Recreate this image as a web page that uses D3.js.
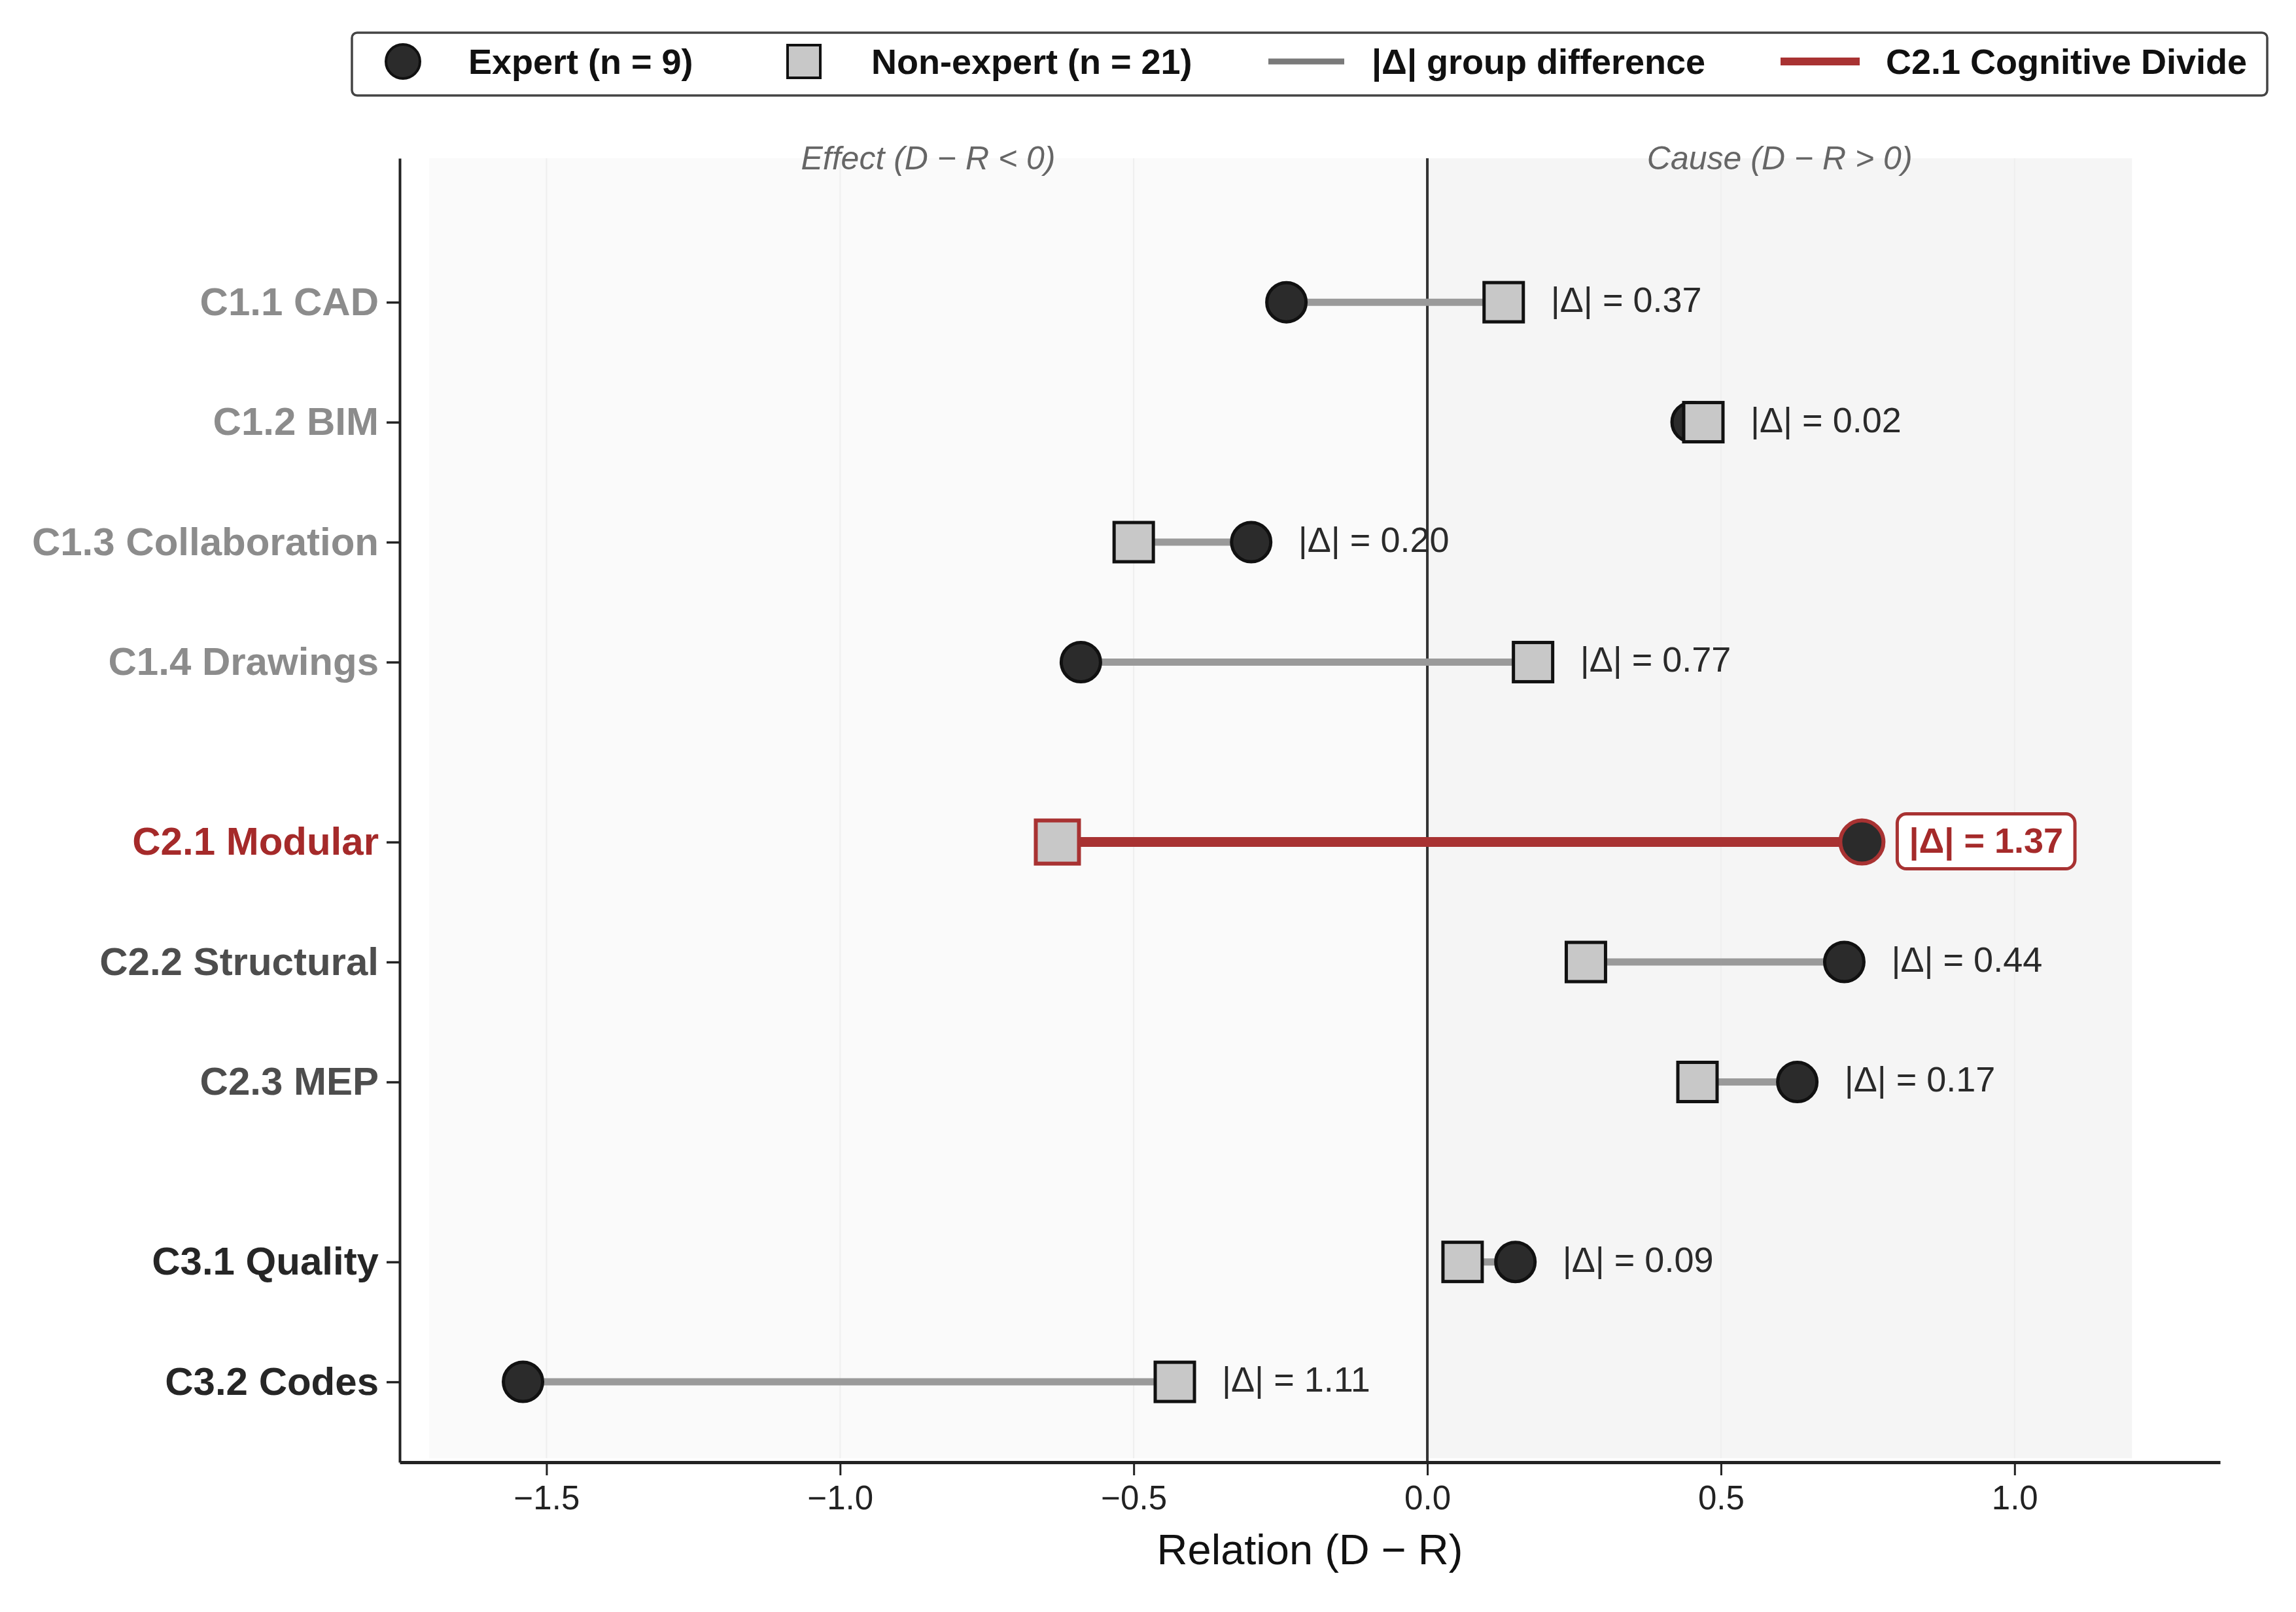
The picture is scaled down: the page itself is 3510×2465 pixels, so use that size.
<!DOCTYPE html>
<html>
<head>
<meta charset="utf-8">
<script src="https://cdn.jsdelivr.net/npm/d3@7"></script>
<style>
  html, body { margin: 0; padding: 0; background: #ffffff; }
  svg { display: block; font-family: "Liberation Sans", Arial, sans-serif; }
</style>
</head>
<body>
<svg id="chart" width="3510" height="2465"></svg>
<script>
// ---------- data ----------
const categories = ["C1.1 CAD", "C1.2 BIM", "C1.3 Collaboration", "C1.4 Drawings",
  "C2.1 Modular", "C2.2 Structural", "C2.3 MEP", "C3.1 Quality", "C3.2 Codes"];
const rowPositions = [0, 1, 2, 3, 4.5, 5.5, 6.5, 8, 9];
const expertValues = [-0.24, 0.45, -0.30, -0.59, 0.74, 0.71, 0.63, 0.15, -1.54];
const nonExpertValues = [0.13, 0.47, -0.50, 0.18, -0.63, 0.27, 0.46, 0.06, -0.43];
const deltaValues = [0.37, 0.02, 0.20, 0.77, 1.37, 0.44, 0.17, 0.09, 1.11];
const labelGroups = ["C1", "C1", "C1", "C1", "focus", "C2", "C2", "C3", "C3"];
const xTicks = [-1.5, -1.0, -0.5, 0.0, 0.5, 1.0];
const legendLabels = ["Expert (n = 9)", "Non-expert (n = 21)", "|\u0394| group difference", "C2.1 Cognitive Divide"];
const regionLabels = ["Effect (D \u2212 R < 0)", "Cause (D \u2212 R > 0)"];
const regionBounds = [[-1.7, 0], [0, 1.2]];
const xTitle = "Relation (D \u2212 R)";
const focusIndex = 4;

// ---------- styles ----------
const groupColor = { C1: "#8c8c8c", C2: "#4d4d4d", C3: "#262626", focus: "#a52a2a" };
const RED = "#a83232";
const svg = d3.select("#chart");

const x = d3.scaleLinear().domain([-1.75, 1.35]).range([611, 3394]);
const y = d3.scaleLinear().domain([-1.2, 9.67]).range([242, 2236]);
const plotTop = y(-1.2), plotBottom = y(9.67);

// background
svg.append("rect").attr("x", 0).attr("y", 0).attr("width", 3510).attr("height", 2465).attr("fill", "#ffffff");

// region shading
const regionFills = ["#fafafa", "#f5f5f5"];
svg.selectAll("rect.region").data(regionBounds).enter().append("rect")
  .attr("class", "region")
  .attr("x", d => x(d[0])).attr("width", d => x(d[1]) - x(d[0]))
  .attr("y", plotTop).attr("height", plotBottom - 6 - plotTop)
  .attr("fill", (d, i) => regionFills[i]);

// faint grid
svg.selectAll("line.grid").data(xTicks.filter(t => t !== 0)).enter().append("line")
  .attr("class", "grid")
  .attr("x1", d => x(d)).attr("x2", d => x(d))
  .attr("y1", plotTop).attr("y2", plotBottom - 6)
  .attr("stroke", "#efefef").attr("stroke-width", 2);

// region labels
svg.selectAll("text.region").data(regionBounds).enter().append("text")
  .attr("class", "region")
  .attr("x", d => x((d[0] + d[1]) / 2)).attr("y", plotTop + 17)
  .attr("text-anchor", "middle")
  .attr("font-size", 50).attr("font-style", "italic").attr("fill", "#666666")
  .text((d, i) => regionLabels[i]);

// zero line
svg.append("line").attr("x1", x(0)).attr("x2", x(0)).attr("y1", plotTop).attr("y2", plotBottom)
  .attr("stroke", "#333333").attr("stroke-width", 4);

const rows = categories.map((c, i) => ({
  cat: c, pos: rowPositions[i], e: expertValues[i], n: nonExpertValues[i],
  d: deltaValues[i], g: labelGroups[i], focus: i === focusIndex
}));

// segments
svg.selectAll("line.seg").data(rows).enter().append("line")
  .attr("class", "seg")
  .attr("x1", d => x(d.e)).attr("x2", d => x(d.n))
  .attr("y1", d => y(d.pos)).attr("y2", d => y(d.pos))
  .attr("stroke", d => d.focus ? RED : "#9a9a9a")
  .attr("stroke-width", d => d.focus ? 15 : 11);

// expert circles
svg.selectAll("circle.expert").data(rows).enter().append("circle")
  .attr("class", "expert")
  .attr("cx", d => x(d.e)).attr("cy", d => y(d.pos)).attr("r", d => d.focus ? 33 : 30)
  .attr("fill", "#2b2b2b")
  .attr("stroke", d => d.focus ? RED : "#111111").attr("stroke-width", d => d.focus ? 6 : 5);

// non-expert squares
svg.selectAll("rect.nonexp").data(rows).enter().append("rect")
  .attr("class", "nonexp")
  .attr("x", d => x(d.n) - (d.focus ? 33 : 30)).attr("y", d => y(d.pos) - (d.focus ? 33 : 30))
  .attr("width", d => d.focus ? 66 : 60).attr("height", d => d.focus ? 66 : 60)
  .attr("fill", "#c8c8c8")
  .attr("stroke", d => d.focus ? RED : "#111111").attr("stroke-width", d => d.focus ? 6 : 5);

// delta labels
rows.forEach(d => {
  const tx = x(Math.max(d.e, d.n)) + 72;
  const label = "|\u0394| = " + d.d.toFixed(2);
  if (d.focus) {
    const g = svg.append("g");
    const box = g.append("rect");
    const t = g.append("text")
      .attr("x", tx).attr("y", y(d.pos) - 3)
      .attr("dominant-baseline", "central")
      .attr("font-size", 54).attr("font-weight", "bold").attr("fill", "#a52a2a")
      .text(label);
    const bb = t.node().getBBox();
    box.attr("x", bb.x - 18).attr("y", y(d.pos) - 43)
      .attr("width", bb.width + 36).attr("height", 84)
      .attr("rx", 14).attr("ry", 14)
      .attr("fill", "#ffffff").attr("stroke", RED).attr("stroke-width", 5);
  } else {
    svg.append("text")
      .attr("x", tx).attr("y", y(d.pos) - 4)
      .attr("dominant-baseline", "central")
      .attr("font-size", 54).attr("fill", "#2a2a2a")
      .text(label);
  }
});

// axes
const yAxis = d3.axisLeft(y).tickValues(rowPositions)
  .tickFormat((d, i) => categories[i]).tickSize(20).tickSizeOuter(0).tickPadding(12);
const gy = svg.append("g").attr("transform", `translate(${x(-1.75)},0)`).call(yAxis);
gy.select(".domain").attr("stroke", "#222").attr("stroke-width", 4);
gy.selectAll(".tick line").attr("stroke", "#222").attr("stroke-width", 3.5);
gy.selectAll(".tick text")
  .attr("font-size", 60).attr("font-weight", "bold")
  .attr("font-family", "'Liberation Sans', Arial, sans-serif")
  .attr("fill", (d, i) => groupColor[labelGroups[i]]);

const xAxis = d3.axisBottom(x).tickValues(xTicks)
  .tickFormat(d => d3.format(".1f")(d).replace("-", "\u2212")).tickSize(20).tickSizeOuter(0).tickPadding(16);
const gx = svg.append("g").attr("transform", `translate(0,${plotBottom})`).call(xAxis);
gx.select(".domain").attr("stroke", "#222").attr("stroke-width", 5);
gx.selectAll(".tick line").attr("stroke", "#222").attr("stroke-width", 3);
gx.selectAll(".tick text")
  .attr("font-size", 51).attr("fill", "#222")
  .attr("font-family", "'Liberation Sans', Arial, sans-serif");

svg.append("text")
  .attr("x", (x(-1.75) + x(1.35)) / 2).attr("y", 2392)
  .attr("text-anchor", "middle").attr("font-size", 65).attr("fill", "#111")
  .text(xTitle);

// legend
const lg = svg.append("g");
lg.append("rect").attr("x", 538).attr("y", 50).attr("width", 2928).attr("height", 96)
  .attr("rx", 8).attr("ry", 8).attr("fill", "#ffffff").attr("stroke", "#444").attr("stroke-width", 3.5);
const ly = 94;
lg.append("circle").attr("cx", 616).attr("cy", ly).attr("r", 26)
  .attr("fill", "#2b2b2b").attr("stroke", "#111").attr("stroke-width", 4);
lg.append("rect").attr("x", 1229 - 25).attr("y", ly - 25).attr("width", 50).attr("height", 50)
  .attr("fill", "#c8c8c8").attr("stroke", "#111").attr("stroke-width", 4);
lg.append("line").attr("x1", 1939).attr("x2", 2055).attr("y1", ly).attr("y2", ly)
  .attr("stroke", "#7a7a7a").attr("stroke-width", 9);
lg.append("line").attr("x1", 2722).attr("x2", 2843).attr("y1", ly).attr("y2", ly)
  .attr("stroke", RED).attr("stroke-width", 12);
const legendX = [716, 1332, 2097, 2883];
lg.selectAll("text.leg").data(legendLabels).enter().append("text")
  .attr("class", "leg")
  .attr("x", (d, i) => legendX[i]).attr("y", ly)
  .attr("dominant-baseline", "central")
  .attr("font-size", 54).attr("font-weight", "bold").attr("fill", "#111")
  .text(d => d);
</script>
</body>
</html>
